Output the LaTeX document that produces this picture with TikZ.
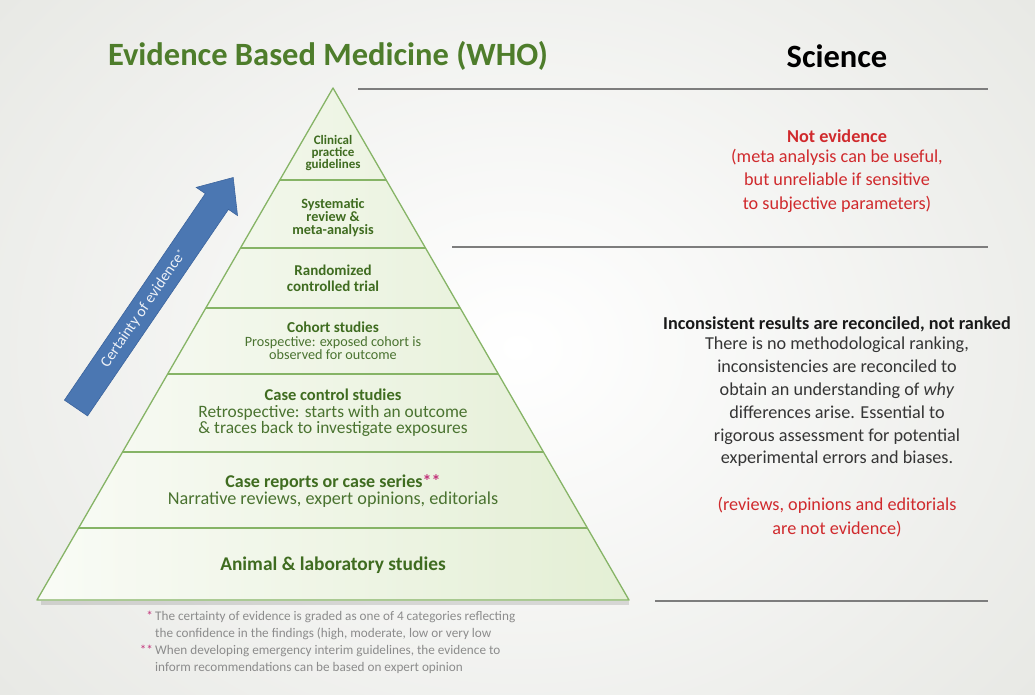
\documentclass[tikz,border=0pt]{standalone}
\usepackage{fontspec}
\setmainfont{Carlito}
\usetikzlibrary{calc}

\definecolor{titlegreen}{HTML}{4E7D2B}
\definecolor{pyrtext}{HTML}{3F6C20}
\definecolor{pyrsub}{HTML}{4A7330}
\definecolor{pyrline}{HTML}{86B466}
\definecolor{pyrlight}{HTML}{F7FAF2}
\definecolor{pyrgreen}{HTML}{D6E7BF}
\definecolor{warnred}{HTML}{D02A2D}
\definecolor{bodygray}{HTML}{353535}
\definecolor{notegray}{HTML}{8C8C8C}
\definecolor{starpink}{HTML}{C2337A}
\definecolor{arrowblue}{HTML}{4B77B2}
\definecolor{arrowdark}{HTML}{3C649D}
\definecolor{rulegray}{HTML}{7D7D7D}
\definecolor{bgedge}{HTML}{E8E9E5}

\newcommand{\setfs}[2]{\fontsize{#1}{#2}\selectfont}

\tikzset{
  lbl/.style={inner sep=0pt, align=center},
  pyrbold/.style={lbl, text=pyrtext},
  pyrmix/.style={lbl, text=pyrsub},
  hrule/.style={draw=rulegray, line width=1.8pt},
  layer/.style={draw=pyrline, line width=1.3pt},
}

\begin{document}
\begin{tikzpicture}[x=1pt,y=-1pt]
\useasboundingbox (0,0) rectangle (1035,695);

% soft page background
\shade[inner color=white, outer color=bgedge, shading=radial] (-150,-200) rectangle (1185,895);

% heading row
\node[lbl, text=titlegreen, font=\bfseries\setfs{32.5}{36}] (ebm) at (328,56) {Evidence Based Medicine (WHO)};
\node[lbl, text=black, font=\bfseries\setfs{32.5}{36}] (sci) at (837,56) {Science};

% separating rules on the right
\coordinate (r1a) at (358,89);  \coordinate (r1b) at (988,89);
\coordinate (r2a) at (452,247); \coordinate (r2b) at (988,247);
\coordinate (r3a) at (655,601); \coordinate (r3b) at (988,601);
\draw[hrule] (r1a) -- (r1b);
\draw[hrule] (r2a) -- (r2b);
\draw[hrule] (r3a) -- (r3b);

% pyramid body with a faint drop shadow along its base
\coordinate (apex) at (333,88);
\coordinate (bl) at (37,600);
\coordinate (br) at (629,600);
\draw[black, opacity=0.12, line width=4pt] ($(bl)+(4,3)$) -- ($(br)+(0,3)$);
\shade[left color=pyrlight, right color=pyrgreen] (apex) -- (br) -- (bl) -- cycle;
\shade[top color=white, bottom color=white, opacity=0.35] (apex) -- (br) -- (bl) -- cycle;

% layer dividers
\foreach \yy in {180,248,308,374,452,528}{
  \path let \n1 = {(\yy-88)/512*296} in
    coordinate (dl) at (333-\n1,\yy) coordinate (dr) at (333+\n1,\yy);
  \draw[layer] (dl) -- (dr);
}
\draw[layer, line join=round] (apex) -- (br) -- (bl) -- cycle;

% layer labels
\node[pyrbold, font=\bfseries\setfs{13}{12}] (l1) at (333,153) {Clinical\\practice\\guidelines};
\node[pyrbold, font=\bfseries\setfs{14.2}{13}] (l2) at (333,218) {Systematic\\review \&\\meta-analysis};
\node[pyrbold, font=\bfseries\setfs{15}{16}] (l3) at (333,278) {Randomized\\controlled trial};
\node[pyrmix, font=\setfs{14.2}{13.3}] (l4) at (333,341)
  {{\color{pyrtext}\bfseries\setfs{15.2}{13.3}Cohort studies}\\
   Prospective: exposed cohort is\\observed for outcome};
\node[pyrmix, font=\setfs{17.4}{16.3}] (l5) at (333,413)
  {{\color{pyrtext}\bfseries\setfs{16.5}{16.3}Case control studies}\\
   Retrospective: starts with an outcome\\\& traces back to investigate exposures};
\node[pyrmix, font=\setfs{18.2}{16.3}] (l6) at (333,491)
  {{\color{pyrtext}\bfseries\setfs{18}{16.3}Case reports or case series{\color{starpink}**}}\\
   Narrative reviews, expert opinions, editorials};
\node[pyrbold, font=\bfseries\setfs{19.4}{20}] (l7) at (333,565) {Animal \& laboratory studies};

% certainty arrow
\begin{scope}[shift={(76,408)}, rotate=55.7]
  \fill[arrowblue, draw=arrowdark, line width=0.6pt]
    (0,-14) -- (250,-14) -- (250,-25) -- (279,0) -- (250,25) -- (250,14) -- (0,14) -- cycle;
  \coordinate (certpos) at (120,0);
\end{scope}
\node[lbl, text=white!90!arrowblue, rotate=55.7, font=\setfs{15.5}{15}] (cert) at (certpos)
  {Certainty of evidence\raisebox{2pt}{\setfs{10}{10}*}};

% footnotes
\node[lbl, align=left, anchor=north west, text=notegray, font=\setfs{13.2}{17}] (notes) at (155,611)
  {\llap{\color{starpink}*\,}The certainty of evidence is graded as one of 4 categories reflecting\\
   the confidence in the findings (high, moderate, low or very low\\
   \llap{\color{starpink}**\,}When developing emergency interim guidelines, the evidence to\\
   inform recommendations can be based on expert opinion};

% right column: meta-analysis note
\node[lbl, text=warnred, font=\setfs{18.2}{23.3}] (notev) at (837,171)
  {{\bfseries Not evidence}\\[-3pt]
   (meta analysis can be useful,\\but unreliable if sensitive\\to subjective parameters)};

% right column: science view
\node[lbl, text=bodygray, font=\setfs{18.2}{22.8}] (incons) at (837,391.5)
  {{\color{black!90}\bfseries Inconsistent results are reconciled, not ranked}\\[-2pt]
   There is no methodological ranking,\\
   inconsistencies are reconciled to\\
   obtain an understanding of \textit{why}\\
   differences arise. Essential to\\
   rigorous assessment for potential\\
   experimental errors and biases.};
\node[lbl, text=warnred, font=\setfs{18.2}{24}] (revs) at (837,517)
  {(reviews, opinions and editorials\\are not evidence)};
\end{tikzpicture}
\end{document}
